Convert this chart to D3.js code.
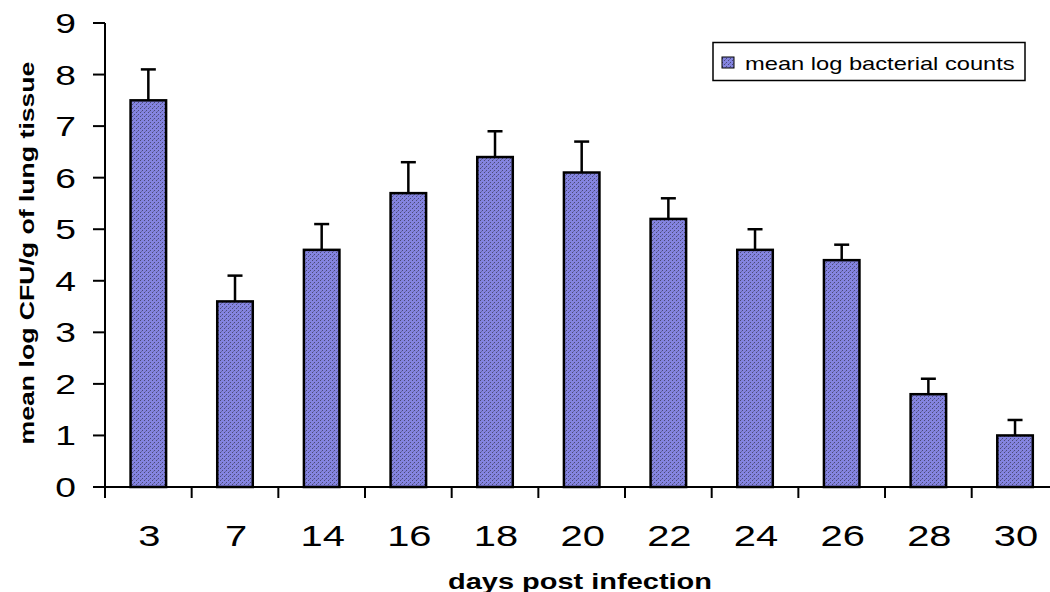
<!DOCTYPE html>
<html>
<head>
<meta charset="utf-8">
<script src="https://cdn.jsdelivr.net/npm/d3@7"></script>
<style>
  html, body { margin: 0; padding: 0; background: #fff; }
  svg { display: block; }
  text { font-family: "Liberation Sans", Arial, sans-serif; fill: #000; }
</style>
</head>
<body>
<svg id="chart" width="1050" height="592"></svg>
<script>
const categories = ["3", "7", "14", "16", "18", "20", "22", "24", "26", "28", "30"];
const means = [7.5, 3.6, 4.6, 5.7, 6.4, 6.1, 5.2, 4.6, 4.4, 1.8, 1.0];
const errorTops = [8.1, 4.1, 5.1, 6.3, 6.9, 6.7, 5.6, 5.0, 4.7, 2.1, 1.3];
const yTicks = [0, 1, 2, 3, 4, 5, 6, 7, 8, 9];
const seriesName = "mean log bacterial counts";
const xTitle = "days post infection";
const yTitle = "mean log CFU/g of lung tissue";

const svg = d3.select("#chart");
const stretch = 1.33;

// pattern fill
const defs = svg.append("defs");
const pat = defs.append("pattern").attr("id", "dots")
  .attr("patternUnits", "userSpaceOnUse").attr("width", 4).attr("height", 4);
pat.append("rect").attr("width", 4).attr("height", 4).attr("fill", "#8484e0");
pat.append("rect").attr("x", 0).attr("y", 0).attr("width", 1).attr("height", 1).attr("fill", "#4a4a78");
pat.append("rect").attr("x", 2).attr("y", 2).attr("width", 1).attr("height", 1).attr("fill", "#4a4a78");
pat.append("rect").attr("x", 1).attr("y", 3).attr("width", 1).attr("height", 1).attr("fill", "#6a6aa8");

const x0 = 105, step = 86.67;
const x = d3.scaleBand().domain(categories)
  .range([x0, x0 + step * categories.length])
  .paddingInner(0.59).paddingOuter(0.295);
const y = d3.scaleLinear().domain([0, 9]).range([487, 23]);

// helper: stretch a text along its baseline to a target width
function fitText(sel, cx, cy, rot, target, anchor) {
  const w = sel.node().getComputedTextLength();
  const s = target / w;
  sel.attr("text-anchor", anchor)
     .attr("transform", `translate(${cx},${cy}) rotate(${rot}) scale(${s},1)`);
}

// bars
svg.append("g").selectAll("rect").data(categories).join("rect")
  .attr("x", d => x(d))
  .attr("y", (d, i) => y(means[i]))
  .attr("width", x.bandwidth())
  .attr("height", (d, i) => y(0) - y(means[i]))
  .attr("fill", "url(#dots)")
  .attr("stroke", "#000").attr("stroke-width", 2.5);

// error bars
const eg = svg.append("g").attr("stroke", "#000").attr("stroke-width", 2.5);
categories.forEach((c, i) => {
  const cx = x(c) + x.bandwidth() / 2;
  eg.append("line").attr("x1", cx).attr("x2", cx)
    .attr("y1", y(means[i])).attr("y2", y(errorTops[i]));
  eg.append("line").attr("x1", cx - 7.5).attr("x2", cx + 7.5)
    .attr("y1", y(errorTops[i])).attr("y2", y(errorTops[i]));
});

// y axis
const yAxis = svg.append("g");
yAxis.append("line").attr("x1", x0).attr("x2", x0).attr("y1", y(9)).attr("y2", y(0) + 11)
  .attr("stroke", "#000").attr("stroke-width", 2);
yAxis.selectAll("line.t").data(yTicks).join("line").attr("class", "t")
  .attr("x1", x0 - 12).attr("x2", x0).attr("y1", d => y(d)).attr("y2", d => y(d))
  .attr("stroke", "#000").attr("stroke-width", 2);
yAxis.selectAll("text").data(yTicks).join("text")
  .attr("transform", d => `translate(76,${y(d) + 10}) scale(${stretch},1)`)
  .attr("text-anchor", "end")
  .style("font-size", "28px")
  .text(d => d);

// x axis
const xAxis = svg.append("g");
xAxis.append("line").attr("x1", x0 - 12).attr("x2", 1050).attr("y1", y(0)).attr("y2", y(0))
  .attr("stroke", "#000").attr("stroke-width", 2);
const boundaries = categories.map((c, i) => x0 + step * (i + 1));
xAxis.selectAll("line.t").data(boundaries).join("line").attr("class", "t")
  .attr("x1", d => d).attr("x2", d => d).attr("y1", y(0)).attr("y2", y(0) + 11)
  .attr("stroke", "#000").attr("stroke-width", 2);
xAxis.selectAll("text").data(categories).join("text")
  .attr("transform", d => `translate(${x(d) + x.bandwidth() / 2 + 1},545.5) scale(${stretch},1)`)
  .attr("text-anchor", "middle")
  .style("font-size", "30px")
  .text(d => d);

// axis titles
const xt = svg.append("text")
  .style("font-size", "22px").style("font-weight", "bold")
  .text(xTitle);
fitText(xt, 580, 589, 0, 264, "middle");

const yt = svg.append("text")
  .style("font-size", "20px").style("font-weight", "bold")
  .text(yTitle);
fitText(yt, 34, 253, -90, 383, "middle");

// legend
const lg = svg.append("g");
lg.append("rect").attr("x", 713).attr("y", 42.5).attr("width", 312).attr("height", 38)
  .attr("fill", "#fff").attr("stroke", "#000").attr("stroke-width", 1.5);
lg.append("rect").attr("x", 722).attr("y", 57).attr("width", 12).attr("height", 11)
  .attr("fill", "url(#dots)").attr("stroke", "#000").attr("stroke-width", 1);
const lt = lg.append("text")
  .style("font-size", "18px")
  .text(seriesName);
fitText(lt, 745, 69.5, 0, 270, "start");
</script>
</body>
</html>
